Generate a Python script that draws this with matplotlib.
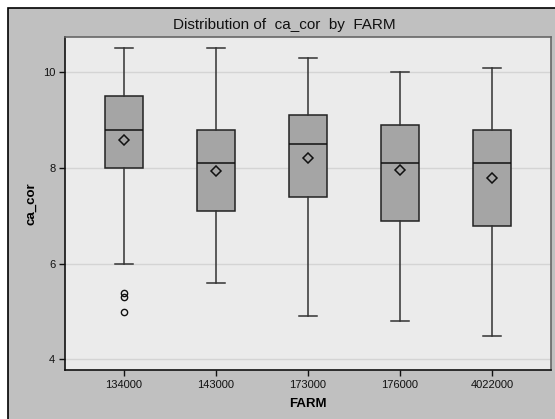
import matplotlib
matplotlib.use("Agg")
import matplotlib.pyplot as plt
from matplotlib.patches import Rectangle

farms = ["134000", "143000", "173000", "176000", "4022000"]
whislo = [6.0, 5.6, 4.9, 4.8, 4.5]
q1 = [8.0, 7.1, 7.4, 6.9, 6.8]
med = [8.8, 8.1, 8.5, 8.1, 8.1]
q3 = [9.5, 8.8, 9.1, 8.9, 8.8]
whishi = [10.5, 10.5, 10.3, 10.0, 10.1]
means = [8.58, 7.94, 8.21, 7.97, 7.79]
fliers = [[5.38, 5.3, 5.0], [], [], [], []]
yticks = [4, 6, 8, 10]

plt.rcParams['font.family'] = ['Liberation Sans', 'DejaVu Sans']

fig = plt.figure(figsize=(5.55, 4.19), dpi=100)
fig.patch.set_facecolor('white')
fig.patches.append(Rectangle((8/555, -0.05), 1.1, 1 - 8/419 + 0.05,
                             transform=fig.transFigure, facecolor='#c0c0c0',
                             edgecolor='black', linewidth=1.2, zorder=-10))

ax = fig.add_axes([65/555, 1 - 370/419, (551-65)/555, (370-37)/419])
ax.set_zorder(1)
ax.set_facecolor('#ebebeb')

stats = []
for i in range(len(farms)):
    stats.append(dict(label=farms[i], whislo=whislo[i], q1=q1[i], med=med[i],
                      q3=q3[i], whishi=whishi[i], mean=means[i], fliers=fliers[i]))

ax.bxp(stats, positions=range(1, len(farms) + 1), widths=0.41, showmeans=True,
       patch_artist=True, capwidths=0.2,
       boxprops=dict(facecolor='#a5a5a5', edgecolor='#222222', linewidth=1.1),
       medianprops=dict(color='#111111', linewidth=1.1),
       whiskerprops=dict(color='#333333', linewidth=1.1),
       capprops=dict(color='#333333', linewidth=1.1),
       meanprops=dict(marker='D', markerfacecolor='none', markeredgecolor='#111111',
                      markersize=5.5, markeredgewidth=1.1),
       flierprops=dict(marker='o', markerfacecolor='none', markeredgecolor='#111111',
                       markersize=4.5, markeredgewidth=1.0))

ax.set_xlim(0.36, 5.64)
ax.set_ylim(3.78, 10.74)
ax.set_yticks(yticks)
ax.set_yticklabels([str(t) for t in yticks])
ax.yaxis.grid(True, color='#d4d4d4', linewidth=1.0)
ax.set_axisbelow(True)

for s in ['left', 'bottom']:
    ax.spines[s].set_color('#111111')
    ax.spines[s].set_linewidth(1.2)
for s in ['top', 'right']:
    ax.spines[s].set_color('#666666')
    ax.spines[s].set_linewidth(1.2)

ax.tick_params(axis='both', direction='out', length=4, width=1, colors='#111111',
               labelsize=8, pad=3)
ax.set_xlabel("FARM", fontsize=9.5, fontweight='bold', labelpad=6)
ax.set_ylabel("ca_cor", fontsize=9.5, fontweight='bold', labelpad=4)

fig.text(284/555, 1 - 25/419, "Distribution of  ca_cor  by  FARM", ha='center',
         va='center', fontsize=11, color='#111111')

fig.savefig("out.png", dpi=100)
